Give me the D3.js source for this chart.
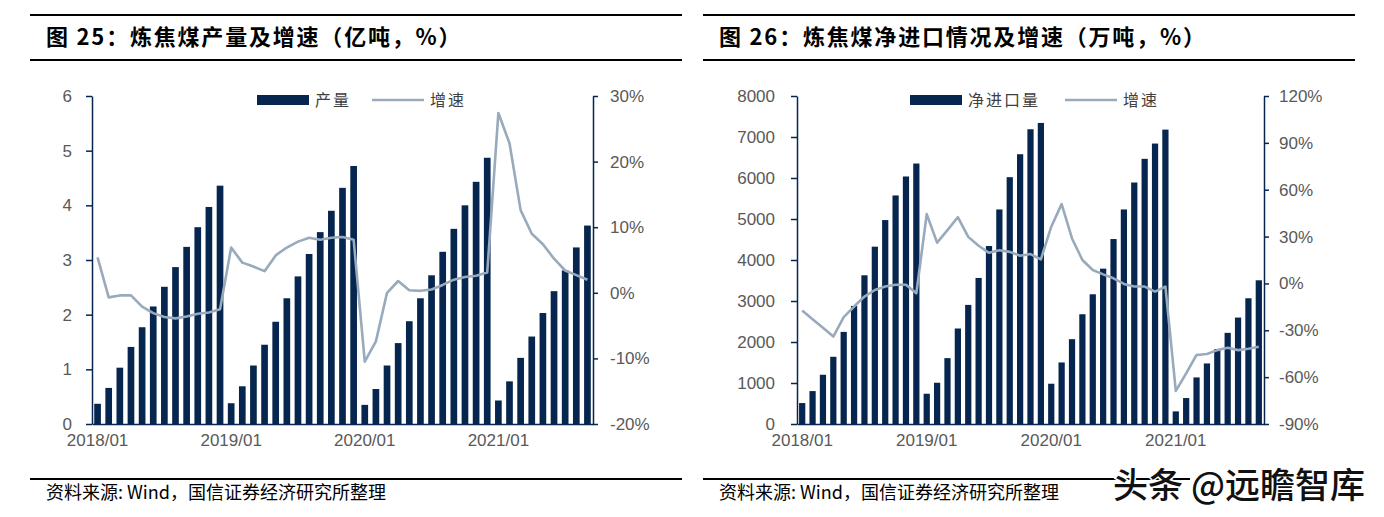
<!DOCTYPE html>
<html>
<head>
<meta charset="utf-8">
<script src="https://cdn.jsdelivr.net/npm/d3@7"></script>
<style>
  body { margin: 0; background: #fff; }
</style>
</head>
<body>
<div id="chart"></div>
<script>
// categories: monthly cumulative, Jan 2018 .. Sep 2021
var years = ["2018", "2019", "2020", "2021"];
var monthsPerYear = [12, 12, 12, 9];
var categories = [];
years.forEach(function (y, i) {
    for (var m = 1; m <= monthsPerYear[i]; m++) {
        categories.push(y + "/" + (m < 10 ? "0" : "") + m);
    }
});
var xTickLabels = ["2018/01", "2019/01", "2020/01", "2021/01"];

// 图25 炼焦煤产量 (亿吨) and 增速 (%)
var output = [0.37, 0.66, 1.03, 1.41, 1.77, 2.15, 2.51, 2.87, 3.24, 3.60, 3.97, 4.36,
              0.38, 0.69, 1.07, 1.45, 1.87, 2.30, 2.70, 3.11, 3.51, 3.90, 4.32, 4.72,
              0.35, 0.64, 1.07, 1.48, 1.88, 2.30, 2.72, 3.15, 3.57, 4.00, 4.43, 4.87,
              0.43, 0.78, 1.21, 1.60, 2.03, 2.43, 2.81, 3.23, 3.63];
var outputGrowth = [5.4, -0.7, -0.4, -0.4, -2.1, -3.1, -3.7, -3.9, -3.6, -3.2, -3.0, -2.5,
                    6.9, 4.6, 4.0, 3.3, 5.7, 6.9, 7.8, 8.4, 8.1, 8.4, 8.5, 8.1,
                    -10.5, -7.4, 0.0, 1.8, 0.4, 0.3, 0.5, 1.2, 2.0, 2.4, 2.6, 3.1,
                    27.4, 22.8, 12.6, 9.0, 7.4, 5.2, 3.4, 2.7, 2.0];
var outputTicks = [0, 1, 2, 3, 4, 5, 6];
var outputGrowthTicks = [-20, -10, 0, 10, 20, 30];

// 图26 炼焦煤净进口量 (万吨) and 增速 (%)
var netImport = [511, 803, 1201, 1639, 2247, 2880, 3627, 4325, 4974, 5574, 6037, 6353,
                 738, 1006, 1607, 2329, 2905, 3562, 4341, 5233, 6020, 6580, 7189, 7343,
                 982, 1501, 2069, 2677, 3164, 3789, 4511, 5233, 5890, 6467, 6840, 7180,
                 308, 633, 1136, 1477, 1826, 2223, 2596, 3067, 3505];
var netImportGrowth = [-17.4, -22.9, -28.4, -34.0, -21.6, -14.8, -8.4, -4.2, -2.0, -0.8, -0.8, -6.3,
                       44.4, 26.1, 34.1, 42.4, 29.8, 24.1, 19.6, 21.3, 20.2, 17.7, 18.8, 15.4,
                       36.3, 50.8, 28.8, 15.0, 8.6, 5.8, 3.3, -0.3, -2.0, -2.0, -5.2, -2.0,
                       -68.8, -57.6, -45.8, -45.2, -42.7, -41.2, -42.7, -41.8, -40.5];
var netImportTicks = [0, 1000, 2000, 3000, 4000, 5000, 6000, 7000, 8000];
var netImportGrowthTicks = [-90, -60, -30, 0, 30, 60, 90, 120];

var width = 1384, height = 517;
var navy = "#06264f", lineColor = "#98aabb", labelColor = "#595959";
var cjk = "'Noto Sans CJK SC', sans-serif";
var latin = "'Liberation Sans', Arial, sans-serif";

var svg = d3.select("#chart").append("svg")
    .attr("width", width).attr("height", height);

function drawChart(opt) {
    var g = svg.append("g");

    // title block with rules
    g.append("line").attr("x1", opt.frameL).attr("x2", opt.frameR).attr("y1", 15).attr("y2", 15)
        .attr("stroke", "#000").attr("stroke-width", 2);
    g.append("line").attr("x1", opt.frameL).attr("x2", opt.frameR).attr("y1", 60).attr("y2", 60)
        .attr("stroke", "#000").attr("stroke-width", 2);
    g.append("text").attr("x", opt.frameL + 16).attr("y", 45)
        .style("font-family", cjk).style("font-weight", "bold").style("font-size", "22px")
        .style("letter-spacing", "1.8px")
        .attr("fill", "#000").text(opt.title);

    // source rule + note
    g.append("line").attr("x1", opt.frameL).attr("x2", opt.sourceR).attr("y1", 479).attr("y2", 479)
        .attr("stroke", "#000").attr("stroke-width", 2);
    g.append("text").attr("x", opt.frameL + 16).attr("y", 499)
        .style("font-family", cjk).style("font-size", "18px").attr("fill", "#000")
        .text("资料来源: Wind，国信证券经济研究所整理");

    var x = d3.scaleBand().domain(categories)
        .range([opt.left, opt.right]).paddingInner(0.4).paddingOuter(0.2);
    var yL = d3.scaleLinear().domain(opt.leftDomain).range([opt.bottom, opt.top]);
    var yR = d3.scaleLinear().domain(opt.rightDomain).range([opt.bottom, opt.top]);

    g.selectAll(".bar").data(opt.bars).enter().append("rect")
        .attr("class", "bar")
        .attr("x", function (d, i) { return x(categories[i]); })
        .attr("width", x.bandwidth())
        .attr("y", function (d) { return yL(d); })
        .attr("height", function (d) { return yL(0) - yL(d); })
        .attr("fill", navy);

    var line = d3.line()
        .x(function (d, i) { return x(categories[i]) + x.bandwidth() / 2; })
        .y(function (d) { return yR(d); });
    g.append("path").datum(opt.growth)
        .attr("d", line).attr("fill", "none")
        .attr("stroke", lineColor).attr("stroke-width", 2.6).attr("stroke-linejoin", "round");

    var axL = g.append("g").attr("transform", "translate(" + opt.left + ",0)")
        .call(d3.axisLeft(yL).tickValues(opt.leftTicks).tickSize(6).tickSizeOuter(0)
            .tickPadding(opt.leftPad).tickFormat(d3.format("d")));
    var axR = g.append("g").attr("transform", "translate(" + opt.right + ",0)")
        .call(d3.axisRight(yR).tickValues(opt.rightTicks).tickSize(5).tickSizeOuter(0)
            .tickPadding(opt.rightPad).tickFormat(function (d) { return d + "%"; }));
    var axB = g.append("g").attr("transform", "translate(0," + opt.bottom + ")")
        .call(d3.axisBottom(x).tickValues(xTickLabels).tickSize(0).tickSizeOuter(0).tickPadding(10));

    [axL, axR, axB].forEach(function (a) {
        a.select(".domain").attr("stroke", navy).attr("stroke-width", 1.5);
        a.selectAll(".tick line").attr("stroke", navy).attr("stroke-width", 1.5);
        a.selectAll(".tick text").attr("fill", labelColor)
            .style("font-family", latin).style("font-size", "17px");
    });

    // legend
    var lg = g.append("g").style("font-family", cjk).style("font-size", "16px")
        .style("letter-spacing", "2px");
    lg.append("rect").attr("x", opt.legendX).attr("y", 95).attr("width", 52).attr("height", 10)
        .attr("fill", navy);
    lg.append("text").attr("x", opt.legendX + 58).attr("y", 106).attr("fill", "#404040")
        .text(opt.barName);
    lg.append("line").attr("x1", opt.legendLineX).attr("x2", opt.legendLineX + 52)
        .attr("y1", 100).attr("y2", 100).attr("stroke", lineColor).attr("stroke-width", 2.6);
    lg.append("text").attr("x", opt.legendLineX + 58).attr("y", 106).attr("fill", "#404040")
        .text("增速");
}

drawChart({
    title: "图 25：炼焦煤产量及增速（亿吨，%）",
    frameL: 30, frameR: 682, sourceR: 682,
    left: 92, right: 593, top: 96, bottom: 424,
    leftDomain: [0, 6], rightDomain: [-20, 30],
    leftTicks: outputTicks, rightTicks: outputGrowthTicks,
    leftPad: 14, rightPad: 12,
    bars: output, growth: outputGrowth,
    barName: "产量", legendX: 257, legendLineX: 372
});

drawChart({
    title: "图 26：炼焦煤净进口情况及增速（万吨，%）",
    frameL: 703, frameR: 1355, sourceR: 1190,
    left: 797, right: 1264, top: 96, bottom: 424,
    leftDomain: [0, 8000], rightDomain: [-90, 120],
    leftTicks: netImportTicks, rightTicks: netImportGrowthTicks,
    leftPad: 16, rightPad: 10,
    bars: netImport, growth: netImportGrowth,
    barName: "净进口量", legendX: 910, legendLineX: 1065
});

// watermark
svg.append("text").attr("x", 1113).attr("y", 498)
    .style("font-family", cjk).style("font-size", "35px").style("font-weight", "500")
    .attr("fill", "#111").attr("stroke", "#fff").attr("stroke-width", 3)
    .attr("paint-order", "stroke")
    .text("头条 @远瞻智库");
</script>
</body>
</html>
